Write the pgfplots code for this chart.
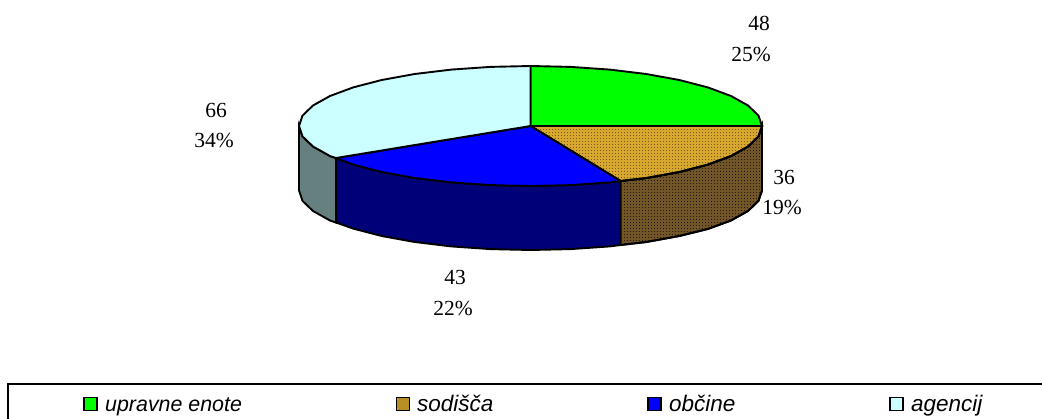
\documentclass[border=0pt]{standalone}
\usepackage{pgfplots}
\usepackage{fontspec}
\setmainfont{Liberation Serif}
\newfontfamily\sansf{Liberation Sans}
\pgfplotsset{compat=1.18}
\usetikzlibrary{patterns}
\pgfdeclarepatternformonly{dith}{\pgfqpoint{-1pt}{-1pt}}{\pgfqpoint{3pt}{3pt}}{\pgfqpoint{3pt}{3pt}}{%
  \pgfpathrectangle{\pgfqpoint{0pt}{0pt}}{\pgfqpoint{1pt}{1pt}}\pgfusepath{fill}}
\definecolor{cgreen}{HTML}{00FF00}
\definecolor{corange}{HTML}{D8A82E}
\definecolor{cbrown}{HTML}{725628}
\definecolor{cblue}{HTML}{0000FF}
\definecolor{cnavy}{HTML}{000078}
\definecolor{ccyan}{HTML}{CCFFFF}
\definecolor{cgrey}{HTML}{668080}
\begin{document}
\begin{tikzpicture}
\begin{axis}[
  scale only axis, width=1042pt, height=418pt,
  xmin=0, xmax=1042, ymin=0, ymax=418, y dir=reverse,
  hide axis, clip=true,
]
\addplot[draw=none] coordinates {(0,0)(1042,418)};
% --- side walls
\addplot[draw=black, line width=1.9pt, fill=cgrey] coordinates {
 (299,126)(302.5,136.4)(313,146.5)(330,156)(336,158)
 (336,222.5)(330,220.5)(313,211)(302.5,200.9)(299,190.5)} -- cycle;
\addplot[draw=black, line width=1.9pt, fill=cnavy] coordinates {
 (336,158)(353.2,164.6)(381.7,172)(414.7,178)(451.3,182.4)(490.3,185.1)(530.5,186)(570.7,185.1)(609.7,182.4)(620.5,181)
 (620.5,245)(609.7,246.4)(570.7,249.1)(530.5,250)(490.3,249.1)(451.3,246.4)(414.7,242)(381.7,236)(353.2,228.6)(336,222.5)} -- cycle;
\addplot[draw=black, line width=1.9pt, fill=cbrown, postaction={pattern=dith, pattern color=black!70!cbrown}] coordinates {
 (620.5,181)(646.3,178)(679.3,172)(707.8,164.6)(731,156)(748,146.5)(758.5,136.4)(762,126)
 (762,190.5)(758.5,200.9)(748,211)(731,220.5)(707.8,229)(679.3,236)(646.3,242)(620.5,245)} -- cycle;
% --- top faces
\addplot[draw=black, line width=1.9pt, fill=cgreen] coordinates {
 (530.5,126)(530.5,66)(570.7,66.9)(609.7,69.6)(646.3,74)(679.3,80)(707.8,87.4)(731,96)(748,105.5)(758.5,115.6)(762,126)} -- cycle;
\addplot[draw=black, line width=1.9pt, fill=corange, postaction={pattern=dith, pattern color=black!45!corange}] coordinates {
 (530.5,126)(762,126)(758.5,136.4)(748,146.5)(731,156)(707.8,164.6)(679.3,172)(646.3,178)(620.5,181)} -- cycle;
\addplot[draw=black, line width=1.9pt, fill=cblue] coordinates {
 (530.5,126)(620.5,181)(609.7,182.4)(570.7,185.1)(530.5,186)(490.3,185.1)(451.3,182.4)(414.7,178)(381.7,172)(353.2,164.6)(336,158)} -- cycle;
\addplot[draw=black, line width=1.9pt, fill=ccyan] coordinates {
 (530.5,126)(336,158)(330,156)(313,146.5)(302.5,136.4)(299,126)(302.5,115.6)(313,105.5)(330,96)(353.2,87.4)(381.7,80)(414.7,74)(451.3,69.6)(490.3,66.9)(530.5,66)} -- cycle;
% --- legend frame
\addplot[draw=black, line width=1.8pt, overlay] coordinates {(1045,384)(8,384)(8,425)};
% --- legend swatches
\addplot[only marks, mark=square*, mark size=6.5pt, mark options={fill=cgreen, draw=black, line width=1.3pt}] coordinates {(90.5,404)};
\addplot[only marks, mark=square*, mark size=6.5pt, mark options={fill=black!15!corange, draw=black, line width=1.3pt}] coordinates {(403,404)};
\addplot[only marks, mark=square*, mark size=6.5pt, mark options={fill=cblue, draw=black, line width=1.3pt}] coordinates {(654.5,404)};
\addplot[only marks, mark=square*, mark size=6.5pt, mark options={fill=ccyan, draw=black, line width=1.3pt}] coordinates {(896.5,404)};
% --- texts
\node[font=\fontsize{21.5}{21.5}\selectfont] at (axis cs:759,23) {48};
\node[font=\fontsize{21.5}{21.5}\selectfont] at (axis cs:751,54) {25\%};
\node[font=\fontsize{21.5}{21.5}\selectfont] at (axis cs:784,177) {36};
\node[font=\fontsize{21.5}{21.5}\selectfont] at (axis cs:782,207) {19\%};
\node[font=\fontsize{21.5}{21.5}\selectfont] at (axis cs:455,277) {43};
\node[font=\fontsize{21.5}{21.5}\selectfont] at (axis cs:453,308) {22\%};
\node[font=\fontsize{21.5}{21.5}\selectfont] at (axis cs:216,110) {66};
\node[font=\fontsize{21.5}{21.5}\selectfont] at (axis cs:214,140) {34\%};
\node[font=\sansf\itshape\fontsize{21.4}{21.4}\selectfont, anchor=base west, inner sep=0pt] at (axis cs:105,411) {upravne enote};
\node[font=\sansf\itshape\fontsize{22.5}{22.5}\selectfont, anchor=base west, inner sep=0pt] at (axis cs:417,411) {sodišča};
\node[font=\sansf\itshape\fontsize{22.5}{22.5}\selectfont, anchor=base west, inner sep=0pt] at (axis cs:669,411) {občine};
\node[font=\sansf\itshape\fontsize{22.5}{22.5}\selectfont, anchor=base west, inner sep=0pt] at (axis cs:911,411) {agencij};
\end{axis}
\end{tikzpicture}
\end{document}
